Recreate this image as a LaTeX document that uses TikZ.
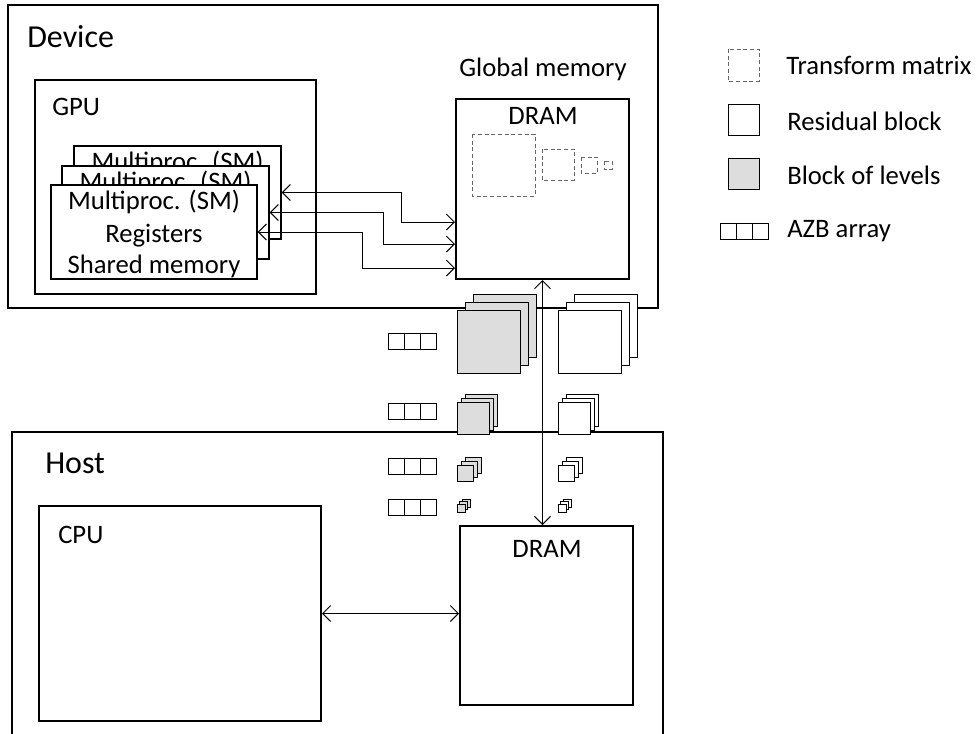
\documentclass[tikz,border=0pt]{standalone}
\usepackage{fontspec}
\setmainfont{Carlito}
\usetikzlibrary{fit,arrows.meta}
\definecolor{levgray}{HTML}{DDDDDD}
\definecolor{tmgray}{HTML}{666666}
\newcommand\blkstack[5]{% style, x, y (front top-left), size, offset
  \foreach \k in {2,1,0}{%
    \draw[#1] ({#2+\k*#5},{#3-\k*#5}) rectangle ++(#4,#4);
  }}
\newcommand\azbarray[2]{%
  \foreach \k in {0,1,2}{%
    \draw[sq] ({#1+16*\k},#2) rectangle ++(16,16);
  }}
\begin{document}
\begin{tikzpicture}[x=0.75pt,y=-0.75pt,
  frame/.style={draw, line width=1.5pt, inner sep=0pt},
  smbox/.style={draw, line width=1.1pt, inner sep=0pt, fill=white},
  lbl/.style={inner sep=0pt, font=\fontsize{20}{24}\selectfont},
  ttl/.style={inner sep=0pt, font=\fontsize{24}{28}\selectfont},
  conn/.style={line width=0.75pt, {Straight Barb[length=6pt,width=12pt]}-{Straight Barb[length=6pt,width=12pt]}},
  tm/.style={draw=tmgray, line width=0.75pt, dash pattern=on 3pt off 2pt},
  sq/.style={draw, line width=0.75pt},
  lev/.style={sq, fill=levgray},
  res/.style={sq, fill=white}
]
\useasboundingbox (0,0) rectangle (979,733);
\begin{scope}
\clip (0,0) rectangle (979,733);
% Device
\node[frame, fit={(8,5) (658,308)}] (device) {};
\node[ttl, anchor=base west] (devicelbl) at (27,47) {Device};
% Host
\node[frame, fit={(12,432) (663,748)}] (host) {};
\node[ttl, anchor=base west] (hostlbl) at (45,473) {Host};
% GPU
\node[frame, fit={(35,80) (316,294)}] (gpu) {};
\node[lbl, anchor=base west] (gpulbl) at (52,115) {GPU};
% SM boxes
\node[smbox, fit={(74,146) (281,239)}] (smback) {};
\node[lbl, anchor=base] (smbacklbl) at (smback.north |- 0,170) {Multiproc. (SM)};
\node[smbox, fit={(62,166) (269,259)}] (smmid) {};
\node[lbl, anchor=base] (smmidlbl) at (smmid.north |- 0,190) {Multiproc. (SM)};
\node[smbox, fit={(51,185) (257,279)}] (smfront) {};
\node[lbl, anchor=base] (smfrontlbl) at (smfront.north |- 0,209) {Multiproc. (SM)};
\node[lbl, anchor=base] (reglbl) at (smfront.north |- 0,242) {Registers};
\node[lbl, anchor=base] (shmlbl) at (smfront.north |- 0,273) {Shared memory};
% Global memory
\node[lbl, anchor=base] (gmlbl) at (543,76) {Global memory};
\node[frame, fit={(456,99) (629,279)}] (gdram) {};
\node[lbl, anchor=base] (gdramlbl) at (543,124) {DRAM};
\draw[tm] (472,134) rectangle (535,196);
\draw[tm] (542,149) rectangle (574,180);
\draw[tm] (581,157) rectangle (597,173);
\draw[tm] (604,161) rectangle (612,169);
% connectors SM <-> DRAM
\coordinate (k1) at (401,222);
\coordinate (k2) at (383,244);
\coordinate (k3) at (362,268);
\draw[conn] (smback.east) -| (k1) -- (k1 -| gdram.west);
\draw[conn] (smmid.east) -| (k2) -- (k2 -| gdram.west);
\draw[conn] (smfront.east) -| (k3) -- (k3 -| gdram.west);
% CPU and host DRAM
\node[frame, fit={(39,506) (321,721)}] (cpu) {};
\node[lbl, anchor=base west] (cpulbl) at (58,543) {CPU};
\node[frame, fit={(460,526) (633,705)}] (hdram) {};
\node[lbl, anchor=base] (hdramlbl) at (547,557) {DRAM};
\draw[conn] (cpu.east) -- (cpu.east -| hdram.west);
\draw[conn] (gdram.south) -- (gdram.south |- hdram.north);
% stacks of blocks
\blkstack{lev}{457}{310}{63}{8}
\blkstack{res}{558}{310}{63}{8}
\blkstack{lev}{457}{402}{32}{4}
\blkstack{res}{558}{402}{32}{4}
\blkstack{lev}{457}{465}{16}{4}
\blkstack{res}{558}{465}{16}{4}
\blkstack{lev}{457}{504}{8}{2.5}
\blkstack{res}{558}{504}{8}{2.5}
% AZB arrays
\azbarray{388}{333}
\azbarray{388}{403}
\azbarray{388}{458}
\azbarray{388}{499}
% Legend
\draw[tm] (728,49) rectangle (759,81);
\node[lbl, anchor=base west] (lg1) at (786,74) {Transform matrix};
\draw[res] (728,104) rectangle (759,135);
\node[lbl, anchor=base west] (lg2) at (787,130) {Residual block};
\draw[lev] (728,158) rectangle (759,189);
\node[lbl, anchor=base west] (lg3) at (787,184) {Block of levels};
\azbarray{720}{223}
\node[lbl, anchor=base west] (lg4) at (787,237) {AZB array};
\end{scope}
\end{tikzpicture}
\end{document}
